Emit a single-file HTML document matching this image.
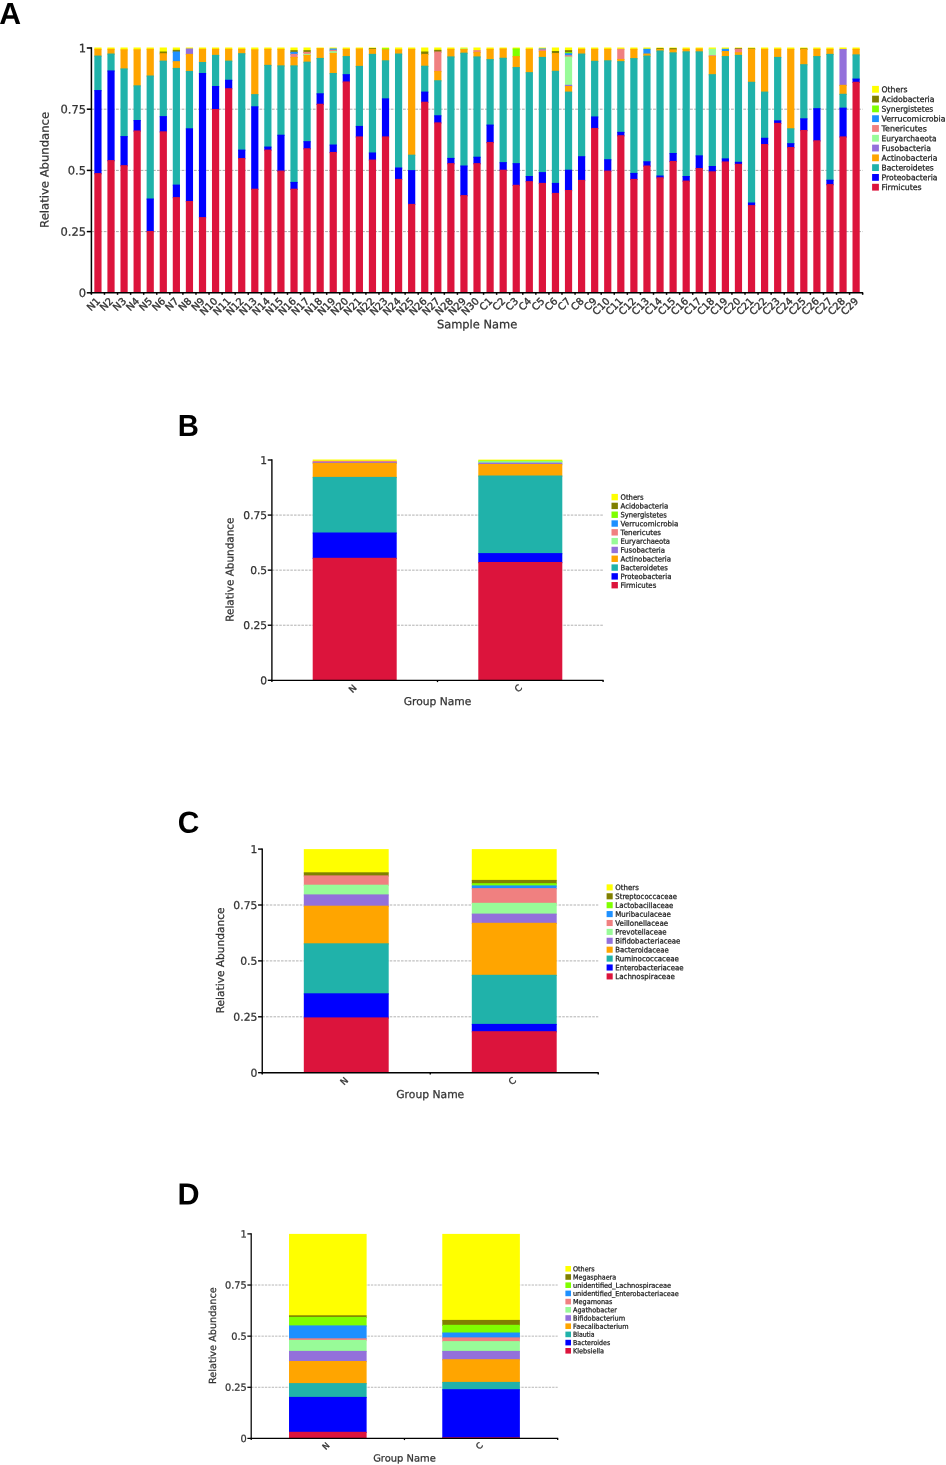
<!DOCTYPE html>
<html lang="en">
<head>
<meta charset="utf-8">
<title>Relative abundance of gut microbiota</title>
<style>
html,body{margin:0;padding:0;background:#fff;}
body{width:946px;height:1465px;overflow:hidden;}
svg{display:block;}
svg text{font-family:"DejaVu Sans", "Liberation Sans", sans-serif;fill:#333;stroke:#333;stroke-width:0.25px;}
svg text.xl{stroke:#333;stroke-width:0.35px;}
svg text.lg{fill:#1c1c1c;stroke:#1c1c1c;}
svg text.pl{font-family:"Liberation Sans",Arial,sans-serif;font-weight:bold;fill:#000;stroke:none;}
</style>
</head>
<body>
<svg width="946" height="1465" viewBox="0 0 946 1465">
<rect width="946" height="1465" fill="#fff"/>
<g>
<line x1="91.4" y1="231.6" x2="862.65" y2="231.6" stroke="#9a9a9a" stroke-width="0.85" stroke-dasharray="2.8 1.3"/>
<line x1="91.4" y1="170.4" x2="862.65" y2="170.4" stroke="#9a9a9a" stroke-width="0.85" stroke-dasharray="2.8 1.3"/>
<line x1="91.4" y1="109.2" x2="862.65" y2="109.2" stroke="#9a9a9a" stroke-width="0.85" stroke-dasharray="2.8 1.3"/>
<rect x="94.34" y="47.5" width="7.2" height="2.49" fill="#ffff00"/>
<rect x="94.34" y="48.79" width="7.2" height="7.97" fill="#ffa500"/>
<rect x="94.34" y="55.56" width="7.2" height="35.7" fill="#20b2aa"/>
<rect x="94.34" y="90.06" width="7.2" height="84.24" fill="#0000ff"/>
<rect x="94.34" y="173.1" width="7.2" height="119.7" fill="#dc143c"/>
<rect x="107.41" y="47.5" width="7.2" height="2.49" fill="#ffff00"/>
<rect x="107.41" y="48.79" width="7.2" height="5.94" fill="#ffa500"/>
<rect x="107.41" y="53.53" width="7.2" height="18.11" fill="#20b2aa"/>
<rect x="107.41" y="70.44" width="7.2" height="90.84" fill="#0000ff"/>
<rect x="107.41" y="160.08" width="7.2" height="132.72" fill="#dc143c"/>
<rect x="120.48" y="47.5" width="7.2" height="3" fill="#ffff00"/>
<rect x="120.48" y="49.3" width="7.2" height="20.31" fill="#ffa500"/>
<rect x="120.48" y="68.41" width="7.2" height="68.85" fill="#20b2aa"/>
<rect x="120.48" y="136.07" width="7.2" height="30.29" fill="#0000ff"/>
<rect x="120.48" y="165.16" width="7.2" height="127.64" fill="#dc143c"/>
<rect x="133.55" y="47.5" width="7.2" height="3" fill="#ffff00"/>
<rect x="133.55" y="49.3" width="7.2" height="37.23" fill="#ffa500"/>
<rect x="133.55" y="85.33" width="7.2" height="35.87" fill="#20b2aa"/>
<rect x="133.55" y="120" width="7.2" height="11.69" fill="#0000ff"/>
<rect x="133.55" y="130.49" width="7.2" height="162.31" fill="#dc143c"/>
<rect x="146.62" y="47.5" width="7.2" height="2.49" fill="#ffff00"/>
<rect x="146.62" y="48.79" width="7.2" height="27.92" fill="#ffa500"/>
<rect x="146.62" y="75.52" width="7.2" height="124.18" fill="#20b2aa"/>
<rect x="146.62" y="198.5" width="7.2" height="33.7" fill="#0000ff"/>
<rect x="146.62" y="231" width="7.2" height="61.8" fill="#dc143c"/>
<rect x="159.7" y="47.5" width="7.2" height="5.2" fill="#ffff00"/>
<rect x="159.7" y="51.5" width="7.2" height="2.89" fill="#808000"/>
<rect x="159.7" y="53.19" width="7.2" height="8.64" fill="#ffa500"/>
<rect x="159.7" y="60.63" width="7.2" height="56.68" fill="#20b2aa"/>
<rect x="159.7" y="116.11" width="7.2" height="16.42" fill="#0000ff"/>
<rect x="159.7" y="131.33" width="7.2" height="161.47" fill="#dc143c"/>
<rect x="172.77" y="47.5" width="7.2" height="3.51" fill="#ffff00"/>
<rect x="172.77" y="49.81" width="7.2" height="2.89" fill="#808000"/>
<rect x="172.77" y="51.5" width="7.2" height="10.84" fill="#1e90ff"/>
<rect x="172.77" y="61.14" width="7.2" height="7.97" fill="#ffa500"/>
<rect x="172.77" y="67.91" width="7.2" height="117.89" fill="#20b2aa"/>
<rect x="172.77" y="184.6" width="7.2" height="13.7" fill="#0000ff"/>
<rect x="172.77" y="197.1" width="7.2" height="95.7" fill="#dc143c"/>
<rect x="185.84" y="47.5" width="7.2" height="2.16" fill="#ffff00"/>
<rect x="185.84" y="48.46" width="7.2" height="6.61" fill="#9370db"/>
<rect x="185.84" y="53.87" width="7.2" height="18.28" fill="#ffa500"/>
<rect x="185.84" y="70.95" width="7.2" height="58.54" fill="#20b2aa"/>
<rect x="185.84" y="128.29" width="7.2" height="73.91" fill="#0000ff"/>
<rect x="185.84" y="201" width="7.2" height="91.8" fill="#dc143c"/>
<rect x="198.91" y="47.5" width="7.2" height="2.49" fill="#ffff00"/>
<rect x="198.91" y="48.79" width="7.2" height="14.39" fill="#ffa500"/>
<rect x="198.91" y="61.99" width="7.2" height="12.19" fill="#20b2aa"/>
<rect x="198.91" y="72.98" width="7.2" height="145.32" fill="#0000ff"/>
<rect x="198.91" y="217.1" width="7.2" height="75.7" fill="#dc143c"/>
<rect x="211.98" y="47.5" width="7.2" height="2.49" fill="#ffff00"/>
<rect x="211.98" y="48.79" width="7.2" height="7.29" fill="#ffa500"/>
<rect x="211.98" y="54.88" width="7.2" height="32.32" fill="#20b2aa"/>
<rect x="211.98" y="86" width="7.2" height="24.2" fill="#0000ff"/>
<rect x="211.98" y="109.01" width="7.2" height="183.79" fill="#dc143c"/>
<rect x="225.06" y="47.5" width="7.2" height="2.49" fill="#ffff00"/>
<rect x="225.06" y="48.79" width="7.2" height="13.04" fill="#ffa500"/>
<rect x="225.06" y="60.63" width="7.2" height="20.31" fill="#20b2aa"/>
<rect x="225.06" y="79.75" width="7.2" height="9.66" fill="#0000ff"/>
<rect x="225.06" y="88.2" width="7.2" height="204.6" fill="#dc143c"/>
<rect x="238.13" y="47.5" width="7.2" height="2.49" fill="#ffff00"/>
<rect x="238.13" y="48.79" width="7.2" height="5.6" fill="#ffa500"/>
<rect x="238.13" y="53.19" width="7.2" height="97.61" fill="#20b2aa"/>
<rect x="238.13" y="149.6" width="7.2" height="9.66" fill="#0000ff"/>
<rect x="238.13" y="158.05" width="7.2" height="134.75" fill="#dc143c"/>
<rect x="251.2" y="47.5" width="7.2" height="3" fill="#ffff00"/>
<rect x="251.2" y="49.3" width="7.2" height="46.02" fill="#ffa500"/>
<rect x="251.2" y="94.12" width="7.2" height="13.38" fill="#20b2aa"/>
<rect x="251.2" y="106.3" width="7.2" height="83.6" fill="#0000ff"/>
<rect x="251.2" y="188.7" width="7.2" height="104.1" fill="#dc143c"/>
<rect x="264.27" y="47.5" width="7.2" height="2.49" fill="#ffff00"/>
<rect x="264.27" y="48.79" width="7.2" height="17.27" fill="#ffa500"/>
<rect x="264.27" y="64.86" width="7.2" height="82.89" fill="#20b2aa"/>
<rect x="264.27" y="146.55" width="7.2" height="4.24" fill="#0000ff"/>
<rect x="264.27" y="149.6" width="7.2" height="143.2" fill="#dc143c"/>
<rect x="277.34" y="47.5" width="7.2" height="2.49" fill="#ffff00"/>
<rect x="277.34" y="48.79" width="7.2" height="17.78" fill="#ffa500"/>
<rect x="277.34" y="65.37" width="7.2" height="70.54" fill="#20b2aa"/>
<rect x="277.34" y="134.71" width="7.2" height="37.09" fill="#0000ff"/>
<rect x="277.34" y="170.6" width="7.2" height="122.2" fill="#dc143c"/>
<rect x="290.42" y="47.5" width="7.2" height="3.85" fill="#ffff00"/>
<rect x="290.42" y="50.15" width="7.2" height="2.89" fill="#808000"/>
<rect x="290.42" y="51.84" width="7.2" height="3.23" fill="#1e90ff"/>
<rect x="290.42" y="53.87" width="7.2" height="4.24" fill="#f08080"/>
<rect x="290.42" y="56.91" width="7.2" height="9.66" fill="#ffa500"/>
<rect x="290.42" y="65.37" width="7.2" height="117.73" fill="#20b2aa"/>
<rect x="290.42" y="181.9" width="7.2" height="8" fill="#0000ff"/>
<rect x="290.42" y="188.7" width="7.2" height="104.1" fill="#dc143c"/>
<rect x="303.49" y="47.5" width="7.2" height="3.85" fill="#ffff00"/>
<rect x="303.49" y="50.15" width="7.2" height="2.89" fill="#808000"/>
<rect x="303.49" y="51.84" width="7.2" height="3.23" fill="#f08080"/>
<rect x="303.49" y="53.87" width="7.2" height="2.21" fill="#98fb98"/>
<rect x="303.49" y="54.88" width="7.2" height="7.97" fill="#ffa500"/>
<rect x="303.49" y="61.65" width="7.2" height="80.69" fill="#20b2aa"/>
<rect x="303.49" y="141.14" width="7.2" height="8.3" fill="#0000ff"/>
<rect x="303.49" y="148.25" width="7.2" height="144.55" fill="#dc143c"/>
<rect x="316.56" y="47.5" width="7.2" height="1.82" fill="#ffff00"/>
<rect x="316.56" y="48.12" width="7.2" height="11.01" fill="#ffa500"/>
<rect x="316.56" y="57.93" width="7.2" height="36.55" fill="#20b2aa"/>
<rect x="316.56" y="93.28" width="7.2" height="11.69" fill="#0000ff"/>
<rect x="316.56" y="103.76" width="7.2" height="189.04" fill="#dc143c"/>
<rect x="329.63" y="47.5" width="7.2" height="2.16" fill="#ffff00"/>
<rect x="329.63" y="48.46" width="7.2" height="2.55" fill="#1e90ff"/>
<rect x="329.63" y="49.81" width="7.2" height="2.55" fill="#f08080"/>
<rect x="329.63" y="51.16" width="7.2" height="2.89" fill="#98fb98"/>
<rect x="329.63" y="52.85" width="7.2" height="21.33" fill="#ffa500"/>
<rect x="329.63" y="72.98" width="7.2" height="72.74" fill="#20b2aa"/>
<rect x="329.63" y="144.52" width="7.2" height="8.64" fill="#0000ff"/>
<rect x="329.63" y="151.97" width="7.2" height="140.83" fill="#dc143c"/>
<rect x="342.7" y="47.5" width="7.2" height="2.49" fill="#ffff00"/>
<rect x="342.7" y="48.79" width="7.2" height="8.47" fill="#ffa500"/>
<rect x="342.7" y="56.07" width="7.2" height="19.3" fill="#20b2aa"/>
<rect x="342.7" y="74.16" width="7.2" height="8.47" fill="#0000ff"/>
<rect x="342.7" y="81.44" width="7.2" height="211.36" fill="#dc143c"/>
<rect x="355.78" y="47.5" width="7.2" height="2.16" fill="#ffff00"/>
<rect x="355.78" y="48.46" width="7.2" height="18.62" fill="#ffa500"/>
<rect x="355.78" y="65.88" width="7.2" height="61.24" fill="#20b2aa"/>
<rect x="355.78" y="125.92" width="7.2" height="11.69" fill="#0000ff"/>
<rect x="355.78" y="136.41" width="7.2" height="156.39" fill="#dc143c"/>
<rect x="368.85" y="47.5" width="7.2" height="1.82" fill="#ffff00"/>
<rect x="368.85" y="48.12" width="7.2" height="2.05" fill="#808000"/>
<rect x="368.85" y="48.96" width="7.2" height="6.1" fill="#ffa500"/>
<rect x="368.85" y="53.87" width="7.2" height="99.8" fill="#20b2aa"/>
<rect x="368.85" y="152.47" width="7.2" height="8.3" fill="#0000ff"/>
<rect x="368.85" y="159.58" width="7.2" height="133.22" fill="#dc143c"/>
<rect x="381.92" y="47.5" width="7.2" height="1.99" fill="#ffff00"/>
<rect x="381.92" y="48.29" width="7.2" height="2.21" fill="#7fff00"/>
<rect x="381.92" y="49.3" width="7.2" height="12.19" fill="#ffa500"/>
<rect x="381.92" y="60.3" width="7.2" height="39.25" fill="#20b2aa"/>
<rect x="381.92" y="98.35" width="7.2" height="39.25" fill="#0000ff"/>
<rect x="381.92" y="136.41" width="7.2" height="156.39" fill="#dc143c"/>
<rect x="394.99" y="47.5" width="7.2" height="3" fill="#ffff00"/>
<rect x="394.99" y="49.3" width="7.2" height="5.43" fill="#ffa500"/>
<rect x="394.99" y="53.53" width="7.2" height="115.17" fill="#20b2aa"/>
<rect x="394.99" y="167.5" width="7.2" height="12.6" fill="#0000ff"/>
<rect x="394.99" y="178.9" width="7.2" height="113.9" fill="#dc143c"/>
<rect x="408.06" y="47.5" width="7.2" height="2.49" fill="#ffff00"/>
<rect x="408.06" y="48.79" width="7.2" height="107.08" fill="#ffa500"/>
<rect x="408.06" y="154.67" width="7.2" height="16.63" fill="#20b2aa"/>
<rect x="408.06" y="170.1" width="7.2" height="35" fill="#0000ff"/>
<rect x="408.06" y="203.9" width="7.2" height="88.9" fill="#dc143c"/>
<rect x="421.14" y="47.5" width="7.2" height="5.2" fill="#ffff00"/>
<rect x="421.14" y="51.5" width="7.2" height="3.57" fill="#808000"/>
<rect x="421.14" y="53.87" width="7.2" height="13.04" fill="#ffa500"/>
<rect x="421.14" y="65.71" width="7.2" height="27.08" fill="#20b2aa"/>
<rect x="421.14" y="91.59" width="7.2" height="11.35" fill="#0000ff"/>
<rect x="421.14" y="101.73" width="7.2" height="191.07" fill="#dc143c"/>
<rect x="434.21" y="47.5" width="7.2" height="3.51" fill="#ffff00"/>
<rect x="434.21" y="49.81" width="7.2" height="2.89" fill="#808000"/>
<rect x="434.21" y="51.5" width="7.2" height="20.65" fill="#f08080"/>
<rect x="434.21" y="70.95" width="7.2" height="10.5" fill="#ffa500"/>
<rect x="434.21" y="80.25" width="7.2" height="36.21" fill="#20b2aa"/>
<rect x="434.21" y="115.26" width="7.2" height="8.3" fill="#0000ff"/>
<rect x="434.21" y="122.37" width="7.2" height="170.43" fill="#dc143c"/>
<rect x="447.28" y="47.5" width="7.2" height="2.49" fill="#ffff00"/>
<rect x="447.28" y="48.79" width="7.2" height="8.81" fill="#ffa500"/>
<rect x="447.28" y="56.41" width="7.2" height="102.68" fill="#20b2aa"/>
<rect x="447.28" y="157.89" width="7.2" height="6.44" fill="#0000ff"/>
<rect x="447.28" y="163.13" width="7.2" height="129.67" fill="#dc143c"/>
<rect x="460.35" y="47.5" width="7.2" height="2.16" fill="#ffff00"/>
<rect x="460.35" y="48.46" width="7.2" height="1.71" fill="#98fb98"/>
<rect x="460.35" y="48.96" width="7.2" height="4.92" fill="#ffa500"/>
<rect x="460.35" y="52.68" width="7.2" height="114.02" fill="#20b2aa"/>
<rect x="460.35" y="165.5" width="7.2" height="30.8" fill="#0000ff"/>
<rect x="460.35" y="195.1" width="7.2" height="97.7" fill="#dc143c"/>
<rect x="473.42" y="47.5" width="7.2" height="3.85" fill="#ffff00"/>
<rect x="473.42" y="50.15" width="7.2" height="2.89" fill="#f08080"/>
<rect x="473.42" y="51.84" width="7.2" height="5.77" fill="#ffa500"/>
<rect x="473.42" y="56.41" width="7.2" height="101.5" fill="#20b2aa"/>
<rect x="473.42" y="156.7" width="7.2" height="7.63" fill="#0000ff"/>
<rect x="473.42" y="163.13" width="7.2" height="129.67" fill="#dc143c"/>
<rect x="486.5" y="47.5" width="7.2" height="2.49" fill="#ffff00"/>
<rect x="486.5" y="48.79" width="7.2" height="11.52" fill="#ffa500"/>
<rect x="486.5" y="59.11" width="7.2" height="66.65" fill="#20b2aa"/>
<rect x="486.5" y="124.57" width="7.2" height="18.62" fill="#0000ff"/>
<rect x="486.5" y="141.99" width="7.2" height="150.81" fill="#dc143c"/>
<rect x="499.57" y="47.5" width="7.2" height="2.16" fill="#ffff00"/>
<rect x="499.57" y="48.46" width="7.2" height="10.5" fill="#ffa500"/>
<rect x="499.57" y="57.76" width="7.2" height="105.56" fill="#20b2aa"/>
<rect x="499.57" y="162.11" width="7.2" height="8.79" fill="#0000ff"/>
<rect x="499.57" y="169.7" width="7.2" height="123.1" fill="#dc143c"/>
<rect x="512.64" y="47.5" width="7.2" height="2.16" fill="#ffff00"/>
<rect x="512.64" y="48.46" width="7.2" height="8.81" fill="#7fff00"/>
<rect x="512.64" y="56.07" width="7.2" height="12.19" fill="#ffa500"/>
<rect x="512.64" y="67.06" width="7.2" height="97.27" fill="#20b2aa"/>
<rect x="512.64" y="163.13" width="7.2" height="22.87" fill="#0000ff"/>
<rect x="512.64" y="184.8" width="7.2" height="108" fill="#dc143c"/>
<rect x="525.71" y="47.5" width="7.2" height="2.49" fill="#ffff00"/>
<rect x="525.71" y="48.79" width="7.2" height="24.54" fill="#ffa500"/>
<rect x="525.71" y="72.14" width="7.2" height="105.06" fill="#20b2aa"/>
<rect x="525.71" y="176" width="7.2" height="6.3" fill="#0000ff"/>
<rect x="525.71" y="181.1" width="7.2" height="111.7" fill="#dc143c"/>
<rect x="538.78" y="47.5" width="7.2" height="2.16" fill="#ffff00"/>
<rect x="538.78" y="48.46" width="7.2" height="2.05" fill="#1e90ff"/>
<rect x="538.78" y="49.3" width="7.2" height="2.89" fill="#f08080"/>
<rect x="538.78" y="50.99" width="7.2" height="7.12" fill="#ffa500"/>
<rect x="538.78" y="56.91" width="7.2" height="116.39" fill="#20b2aa"/>
<rect x="538.78" y="172.1" width="7.2" height="12" fill="#0000ff"/>
<rect x="538.78" y="182.9" width="7.2" height="109.9" fill="#dc143c"/>
<rect x="551.86" y="47.5" width="7.2" height="4.69" fill="#ffff00"/>
<rect x="551.86" y="50.99" width="7.2" height="3.23" fill="#808000"/>
<rect x="551.86" y="53.02" width="7.2" height="18.96" fill="#ffa500"/>
<rect x="551.86" y="70.78" width="7.2" height="113.32" fill="#20b2aa"/>
<rect x="551.86" y="182.9" width="7.2" height="11.2" fill="#0000ff"/>
<rect x="551.86" y="192.9" width="7.2" height="99.9" fill="#dc143c"/>
<rect x="564.93" y="47.5" width="7.2" height="3.85" fill="#ffff00"/>
<rect x="564.93" y="50.15" width="7.2" height="3.23" fill="#808000"/>
<rect x="564.93" y="52.18" width="7.2" height="2.21" fill="#7fff00"/>
<rect x="564.93" y="53.19" width="7.2" height="3.23" fill="#1e90ff"/>
<rect x="564.93" y="55.22" width="7.2" height="2.55" fill="#f08080"/>
<rect x="564.93" y="56.58" width="7.2" height="29.45" fill="#98fb98"/>
<rect x="564.93" y="84.82" width="7.2" height="2.38" fill="#9370db"/>
<rect x="564.93" y="86" width="7.2" height="6.78" fill="#ffa500"/>
<rect x="564.93" y="91.59" width="7.2" height="79.31" fill="#20b2aa"/>
<rect x="564.93" y="169.7" width="7.2" height="21.5" fill="#0000ff"/>
<rect x="564.93" y="190" width="7.2" height="102.8" fill="#dc143c"/>
<rect x="578" y="47.5" width="7.2" height="2.49" fill="#ffff00"/>
<rect x="578" y="48.79" width="7.2" height="5.94" fill="#ffa500"/>
<rect x="578" y="53.53" width="7.2" height="103.86" fill="#20b2aa"/>
<rect x="578" y="156.19" width="7.2" height="24.91" fill="#0000ff"/>
<rect x="578" y="179.9" width="7.2" height="112.9" fill="#dc143c"/>
<rect x="591.07" y="47.5" width="7.2" height="2.49" fill="#ffff00"/>
<rect x="591.07" y="48.79" width="7.2" height="13.21" fill="#ffa500"/>
<rect x="591.07" y="60.8" width="7.2" height="56.84" fill="#20b2aa"/>
<rect x="591.07" y="116.45" width="7.2" height="12.7" fill="#0000ff"/>
<rect x="591.07" y="127.95" width="7.2" height="164.85" fill="#dc143c"/>
<rect x="604.14" y="47.5" width="7.2" height="2.49" fill="#ffff00"/>
<rect x="604.14" y="48.79" width="7.2" height="12.7" fill="#ffa500"/>
<rect x="604.14" y="60.3" width="7.2" height="100.14" fill="#20b2aa"/>
<rect x="604.14" y="159.24" width="7.2" height="12.56" fill="#0000ff"/>
<rect x="604.14" y="170.6" width="7.2" height="122.2" fill="#dc143c"/>
<rect x="617.22" y="47.5" width="7.2" height="2.49" fill="#ffff00"/>
<rect x="617.22" y="48.79" width="7.2" height="11.35" fill="#f08080"/>
<rect x="617.22" y="58.94" width="7.2" height="3.4" fill="#ffa500"/>
<rect x="617.22" y="61.14" width="7.2" height="71.9" fill="#20b2aa"/>
<rect x="617.22" y="131.84" width="7.2" height="4.58" fill="#0000ff"/>
<rect x="617.22" y="135.22" width="7.2" height="157.58" fill="#dc143c"/>
<rect x="630.29" y="47.5" width="7.2" height="2.49" fill="#ffff00"/>
<rect x="630.29" y="48.79" width="7.2" height="10.5" fill="#ffa500"/>
<rect x="630.29" y="58.1" width="7.2" height="116" fill="#20b2aa"/>
<rect x="630.29" y="172.9" width="7.2" height="7.2" fill="#0000ff"/>
<rect x="630.29" y="178.9" width="7.2" height="113.9" fill="#dc143c"/>
<rect x="643.36" y="47.5" width="7.2" height="2.49" fill="#ffff00"/>
<rect x="643.36" y="48.79" width="7.2" height="5.94" fill="#1e90ff"/>
<rect x="643.36" y="53.53" width="7.2" height="3.23" fill="#ffa500"/>
<rect x="643.36" y="55.56" width="7.2" height="106.91" fill="#20b2aa"/>
<rect x="643.36" y="161.27" width="7.2" height="5.43" fill="#0000ff"/>
<rect x="643.36" y="165.5" width="7.2" height="127.3" fill="#dc143c"/>
<rect x="656.43" y="47.5" width="7.2" height="1.82" fill="#ffff00"/>
<rect x="656.43" y="48.12" width="7.2" height="2.05" fill="#808000"/>
<rect x="656.43" y="48.96" width="7.2" height="2.72" fill="#ffa500"/>
<rect x="656.43" y="50.49" width="7.2" height="126.21" fill="#20b2aa"/>
<rect x="656.43" y="175.5" width="7.2" height="3" fill="#0000ff"/>
<rect x="656.43" y="177.3" width="7.2" height="115.5" fill="#dc143c"/>
<rect x="669.5" y="47.5" width="7.2" height="1.82" fill="#ffff00"/>
<rect x="669.5" y="48.12" width="7.2" height="2.38" fill="#808000"/>
<rect x="669.5" y="49.3" width="7.2" height="4.24" fill="#ffa500"/>
<rect x="669.5" y="52.35" width="7.2" height="101.83" fill="#20b2aa"/>
<rect x="669.5" y="152.98" width="7.2" height="9.15" fill="#0000ff"/>
<rect x="669.5" y="160.93" width="7.2" height="131.87" fill="#dc143c"/>
<rect x="682.58" y="47.5" width="7.2" height="2.49" fill="#ffff00"/>
<rect x="682.58" y="48.79" width="7.2" height="3.74" fill="#ffa500"/>
<rect x="682.58" y="51.33" width="7.2" height="125.87" fill="#20b2aa"/>
<rect x="682.58" y="176" width="7.2" height="5.8" fill="#0000ff"/>
<rect x="682.58" y="180.6" width="7.2" height="112.2" fill="#dc143c"/>
<rect x="695.65" y="47.5" width="7.2" height="2.16" fill="#ffff00"/>
<rect x="695.65" y="48.46" width="7.2" height="4.08" fill="#ffa500"/>
<rect x="695.65" y="51.33" width="7.2" height="105.22" fill="#20b2aa"/>
<rect x="695.65" y="155.35" width="7.2" height="13.88" fill="#0000ff"/>
<rect x="695.65" y="168.03" width="7.2" height="124.77" fill="#dc143c"/>
<rect x="708.72" y="47.5" width="7.2" height="2.49" fill="#ffff00"/>
<rect x="708.72" y="48.79" width="7.2" height="7.63" fill="#98fb98"/>
<rect x="708.72" y="55.22" width="7.2" height="2.05" fill="#f08080"/>
<rect x="708.72" y="56.07" width="7.2" height="19.3" fill="#ffa500"/>
<rect x="708.72" y="74.16" width="7.2" height="93.04" fill="#20b2aa"/>
<rect x="708.72" y="166" width="7.2" height="6.5" fill="#0000ff"/>
<rect x="708.72" y="171.3" width="7.2" height="121.5" fill="#dc143c"/>
<rect x="721.79" y="47.5" width="7.2" height="2.49" fill="#ffff00"/>
<rect x="721.79" y="48.79" width="7.2" height="3.4" fill="#1e90ff"/>
<rect x="721.79" y="50.99" width="7.2" height="6.27" fill="#ffa500"/>
<rect x="721.79" y="56.07" width="7.2" height="103.53" fill="#20b2aa"/>
<rect x="721.79" y="158.39" width="7.2" height="4.24" fill="#0000ff"/>
<rect x="721.79" y="161.44" width="7.2" height="131.36" fill="#dc143c"/>
<rect x="734.86" y="47.5" width="7.2" height="1.82" fill="#ffff00"/>
<rect x="734.86" y="48.12" width="7.2" height="1.88" fill="#808000"/>
<rect x="734.86" y="48.79" width="7.2" height="4.58" fill="#f08080"/>
<rect x="734.86" y="52.18" width="7.2" height="3.91" fill="#ffa500"/>
<rect x="734.86" y="54.88" width="7.2" height="108.09" fill="#20b2aa"/>
<rect x="734.86" y="161.78" width="7.2" height="3.23" fill="#0000ff"/>
<rect x="734.86" y="163.81" width="7.2" height="128.99" fill="#dc143c"/>
<rect x="747.94" y="47.5" width="7.2" height="1.99" fill="#ffff00"/>
<rect x="747.94" y="48.29" width="7.2" height="1.71" fill="#808000"/>
<rect x="747.94" y="48.79" width="7.2" height="34.18" fill="#ffa500"/>
<rect x="747.94" y="81.78" width="7.2" height="121.92" fill="#20b2aa"/>
<rect x="747.94" y="202.5" width="7.2" height="3.8" fill="#0000ff"/>
<rect x="747.94" y="205.1" width="7.2" height="87.7" fill="#dc143c"/>
<rect x="761.01" y="47.5" width="7.2" height="2.49" fill="#ffff00"/>
<rect x="761.01" y="48.79" width="7.2" height="43.99" fill="#ffa500"/>
<rect x="761.01" y="91.59" width="7.2" height="47.37" fill="#20b2aa"/>
<rect x="761.01" y="137.76" width="7.2" height="7.46" fill="#0000ff"/>
<rect x="761.01" y="144.02" width="7.2" height="148.78" fill="#dc143c"/>
<rect x="774.08" y="47.5" width="7.2" height="2.49" fill="#ffff00"/>
<rect x="774.08" y="48.79" width="7.2" height="9.32" fill="#ffa500"/>
<rect x="774.08" y="56.91" width="7.2" height="64.62" fill="#20b2aa"/>
<rect x="774.08" y="120.34" width="7.2" height="3.74" fill="#0000ff"/>
<rect x="774.08" y="122.88" width="7.2" height="169.92" fill="#dc143c"/>
<rect x="787.15" y="47.5" width="7.2" height="2.49" fill="#ffff00"/>
<rect x="787.15" y="48.79" width="7.2" height="80.69" fill="#ffa500"/>
<rect x="787.15" y="128.29" width="7.2" height="16.08" fill="#20b2aa"/>
<rect x="787.15" y="143.17" width="7.2" height="5.09" fill="#0000ff"/>
<rect x="787.15" y="147.06" width="7.2" height="145.74" fill="#dc143c"/>
<rect x="800.22" y="47.5" width="7.2" height="1.99" fill="#ffff00"/>
<rect x="800.22" y="48.29" width="7.2" height="1.71" fill="#808000"/>
<rect x="800.22" y="48.79" width="7.2" height="16.59" fill="#ffa500"/>
<rect x="800.22" y="64.19" width="7.2" height="55.32" fill="#20b2aa"/>
<rect x="800.22" y="118.31" width="7.2" height="12.87" fill="#0000ff"/>
<rect x="800.22" y="129.98" width="7.2" height="162.82" fill="#dc143c"/>
<rect x="813.3" y="47.5" width="7.2" height="2.49" fill="#ffff00"/>
<rect x="813.3" y="48.79" width="7.2" height="8.47" fill="#ffa500"/>
<rect x="813.3" y="56.07" width="7.2" height="53.29" fill="#20b2aa"/>
<rect x="813.3" y="108.16" width="7.2" height="33.34" fill="#0000ff"/>
<rect x="813.3" y="140.3" width="7.2" height="152.5" fill="#dc143c"/>
<rect x="826.37" y="47.5" width="7.2" height="2.49" fill="#ffff00"/>
<rect x="826.37" y="48.79" width="7.2" height="6.27" fill="#ffa500"/>
<rect x="826.37" y="53.87" width="7.2" height="127.03" fill="#20b2aa"/>
<rect x="826.37" y="179.7" width="7.2" height="5.6" fill="#0000ff"/>
<rect x="826.37" y="184.1" width="7.2" height="108.7" fill="#dc143c"/>
<rect x="839.44" y="47.5" width="7.2" height="2.66" fill="#ffff00"/>
<rect x="839.44" y="48.96" width="7.2" height="37.06" fill="#9370db"/>
<rect x="839.44" y="84.82" width="7.2" height="10.16" fill="#ffa500"/>
<rect x="839.44" y="93.78" width="7.2" height="15.07" fill="#20b2aa"/>
<rect x="839.44" y="107.65" width="7.2" height="29.95" fill="#0000ff"/>
<rect x="839.44" y="136.41" width="7.2" height="156.39" fill="#dc143c"/>
<rect x="852.51" y="47.5" width="7.2" height="2.49" fill="#ffff00"/>
<rect x="852.51" y="48.79" width="7.2" height="6.78" fill="#ffa500"/>
<rect x="852.51" y="54.38" width="7.2" height="25.39" fill="#20b2aa"/>
<rect x="852.51" y="78.56" width="7.2" height="4.41" fill="#0000ff"/>
<rect x="852.51" y="81.78" width="7.2" height="211.02" fill="#dc143c"/>
<line x1="91.4" y1="47.25" x2="91.4" y2="293.55" stroke="#000" stroke-width="1.5"/>
<line x1="90.65" y1="292.8" x2="863.15" y2="292.8" stroke="#000" stroke-width="1.5"/>
<line x1="86.8" y1="292.8" x2="91.4" y2="292.8" stroke="#000" stroke-width="1.5"/>
<text font-size="11.5" text-anchor="end" transform="translate(86.1 297) rotate(0.06)">0</text>
<line x1="86.8" y1="231.6" x2="91.4" y2="231.6" stroke="#000" stroke-width="1.5"/>
<text font-size="11.5" text-anchor="end" transform="translate(86.1 235.8) rotate(0.06)">0.25</text>
<line x1="86.8" y1="170.4" x2="91.4" y2="170.4" stroke="#000" stroke-width="1.5"/>
<text font-size="11.5" text-anchor="end" transform="translate(86.1 174.6) rotate(0.06)">0.5</text>
<line x1="86.8" y1="109.2" x2="91.4" y2="109.2" stroke="#000" stroke-width="1.5"/>
<text font-size="11.5" text-anchor="end" transform="translate(86.1 113.4) rotate(0.06)">0.75</text>
<line x1="86.8" y1="48" x2="91.4" y2="48" stroke="#000" stroke-width="1.5"/>
<text font-size="11.5" text-anchor="end" transform="translate(86.1 52.2) rotate(0.06)">1</text>
<line x1="91.4" y1="292.8" x2="91.4" y2="294.8" stroke="#000" stroke-width="1.5"/>
<line x1="104.47" y1="292.8" x2="104.47" y2="294.8" stroke="#000" stroke-width="1.5"/>
<line x1="117.54" y1="292.8" x2="117.54" y2="294.8" stroke="#000" stroke-width="1.5"/>
<line x1="130.62" y1="292.8" x2="130.62" y2="294.8" stroke="#000" stroke-width="1.5"/>
<line x1="143.69" y1="292.8" x2="143.69" y2="294.8" stroke="#000" stroke-width="1.5"/>
<line x1="156.76" y1="292.8" x2="156.76" y2="294.8" stroke="#000" stroke-width="1.5"/>
<line x1="169.83" y1="292.8" x2="169.83" y2="294.8" stroke="#000" stroke-width="1.5"/>
<line x1="182.9" y1="292.8" x2="182.9" y2="294.8" stroke="#000" stroke-width="1.5"/>
<line x1="195.98" y1="292.8" x2="195.98" y2="294.8" stroke="#000" stroke-width="1.5"/>
<line x1="209.05" y1="292.8" x2="209.05" y2="294.8" stroke="#000" stroke-width="1.5"/>
<line x1="222.12" y1="292.8" x2="222.12" y2="294.8" stroke="#000" stroke-width="1.5"/>
<line x1="235.19" y1="292.8" x2="235.19" y2="294.8" stroke="#000" stroke-width="1.5"/>
<line x1="248.26" y1="292.8" x2="248.26" y2="294.8" stroke="#000" stroke-width="1.5"/>
<line x1="261.34" y1="292.8" x2="261.34" y2="294.8" stroke="#000" stroke-width="1.5"/>
<line x1="274.41" y1="292.8" x2="274.41" y2="294.8" stroke="#000" stroke-width="1.5"/>
<line x1="287.48" y1="292.8" x2="287.48" y2="294.8" stroke="#000" stroke-width="1.5"/>
<line x1="300.55" y1="292.8" x2="300.55" y2="294.8" stroke="#000" stroke-width="1.5"/>
<line x1="313.62" y1="292.8" x2="313.62" y2="294.8" stroke="#000" stroke-width="1.5"/>
<line x1="326.7" y1="292.8" x2="326.7" y2="294.8" stroke="#000" stroke-width="1.5"/>
<line x1="339.77" y1="292.8" x2="339.77" y2="294.8" stroke="#000" stroke-width="1.5"/>
<line x1="352.84" y1="292.8" x2="352.84" y2="294.8" stroke="#000" stroke-width="1.5"/>
<line x1="365.91" y1="292.8" x2="365.91" y2="294.8" stroke="#000" stroke-width="1.5"/>
<line x1="378.98" y1="292.8" x2="378.98" y2="294.8" stroke="#000" stroke-width="1.5"/>
<line x1="392.06" y1="292.8" x2="392.06" y2="294.8" stroke="#000" stroke-width="1.5"/>
<line x1="405.13" y1="292.8" x2="405.13" y2="294.8" stroke="#000" stroke-width="1.5"/>
<line x1="418.2" y1="292.8" x2="418.2" y2="294.8" stroke="#000" stroke-width="1.5"/>
<line x1="431.27" y1="292.8" x2="431.27" y2="294.8" stroke="#000" stroke-width="1.5"/>
<line x1="444.34" y1="292.8" x2="444.34" y2="294.8" stroke="#000" stroke-width="1.5"/>
<line x1="457.42" y1="292.8" x2="457.42" y2="294.8" stroke="#000" stroke-width="1.5"/>
<line x1="470.49" y1="292.8" x2="470.49" y2="294.8" stroke="#000" stroke-width="1.5"/>
<line x1="483.56" y1="292.8" x2="483.56" y2="294.8" stroke="#000" stroke-width="1.5"/>
<line x1="496.63" y1="292.8" x2="496.63" y2="294.8" stroke="#000" stroke-width="1.5"/>
<line x1="509.7" y1="292.8" x2="509.7" y2="294.8" stroke="#000" stroke-width="1.5"/>
<line x1="522.78" y1="292.8" x2="522.78" y2="294.8" stroke="#000" stroke-width="1.5"/>
<line x1="535.85" y1="292.8" x2="535.85" y2="294.8" stroke="#000" stroke-width="1.5"/>
<line x1="548.92" y1="292.8" x2="548.92" y2="294.8" stroke="#000" stroke-width="1.5"/>
<line x1="561.99" y1="292.8" x2="561.99" y2="294.8" stroke="#000" stroke-width="1.5"/>
<line x1="575.06" y1="292.8" x2="575.06" y2="294.8" stroke="#000" stroke-width="1.5"/>
<line x1="588.14" y1="292.8" x2="588.14" y2="294.8" stroke="#000" stroke-width="1.5"/>
<line x1="601.21" y1="292.8" x2="601.21" y2="294.8" stroke="#000" stroke-width="1.5"/>
<line x1="614.28" y1="292.8" x2="614.28" y2="294.8" stroke="#000" stroke-width="1.5"/>
<line x1="627.35" y1="292.8" x2="627.35" y2="294.8" stroke="#000" stroke-width="1.5"/>
<line x1="640.42" y1="292.8" x2="640.42" y2="294.8" stroke="#000" stroke-width="1.5"/>
<line x1="653.5" y1="292.8" x2="653.5" y2="294.8" stroke="#000" stroke-width="1.5"/>
<line x1="666.57" y1="292.8" x2="666.57" y2="294.8" stroke="#000" stroke-width="1.5"/>
<line x1="679.64" y1="292.8" x2="679.64" y2="294.8" stroke="#000" stroke-width="1.5"/>
<line x1="692.71" y1="292.8" x2="692.71" y2="294.8" stroke="#000" stroke-width="1.5"/>
<line x1="705.78" y1="292.8" x2="705.78" y2="294.8" stroke="#000" stroke-width="1.5"/>
<line x1="718.86" y1="292.8" x2="718.86" y2="294.8" stroke="#000" stroke-width="1.5"/>
<line x1="731.93" y1="292.8" x2="731.93" y2="294.8" stroke="#000" stroke-width="1.5"/>
<line x1="745" y1="292.8" x2="745" y2="294.8" stroke="#000" stroke-width="1.5"/>
<line x1="758.07" y1="292.8" x2="758.07" y2="294.8" stroke="#000" stroke-width="1.5"/>
<line x1="771.14" y1="292.8" x2="771.14" y2="294.8" stroke="#000" stroke-width="1.5"/>
<line x1="784.22" y1="292.8" x2="784.22" y2="294.8" stroke="#000" stroke-width="1.5"/>
<line x1="797.29" y1="292.8" x2="797.29" y2="294.8" stroke="#000" stroke-width="1.5"/>
<line x1="810.36" y1="292.8" x2="810.36" y2="294.8" stroke="#000" stroke-width="1.5"/>
<line x1="823.43" y1="292.8" x2="823.43" y2="294.8" stroke="#000" stroke-width="1.5"/>
<line x1="836.5" y1="292.8" x2="836.5" y2="294.8" stroke="#000" stroke-width="1.5"/>
<line x1="849.58" y1="292.8" x2="849.58" y2="294.8" stroke="#000" stroke-width="1.5"/>
<line x1="862.65" y1="292.8" x2="862.65" y2="294.8" stroke="#000" stroke-width="1.5"/>
<text font-size="10" text-anchor="end" transform="translate(100.74 301.8) rotate(-44.94)" class="xl">N1</text>
<text font-size="10" text-anchor="end" transform="translate(113.81 301.8) rotate(-44.94)" class="xl">N2</text>
<text font-size="10" text-anchor="end" transform="translate(126.88 301.8) rotate(-44.94)" class="xl">N3</text>
<text font-size="10" text-anchor="end" transform="translate(139.95 301.8) rotate(-44.94)" class="xl">N4</text>
<text font-size="10" text-anchor="end" transform="translate(153.02 301.8) rotate(-44.94)" class="xl">N5</text>
<text font-size="10" text-anchor="end" transform="translate(166.1 301.8) rotate(-44.94)" class="xl">N6</text>
<text font-size="10" text-anchor="end" transform="translate(179.17 301.8) rotate(-44.94)" class="xl">N7</text>
<text font-size="10" text-anchor="end" transform="translate(192.24 301.8) rotate(-44.94)" class="xl">N8</text>
<text font-size="10" text-anchor="end" transform="translate(205.31 301.8) rotate(-44.94)" class="xl">N9</text>
<text font-size="10" text-anchor="end" transform="translate(218.38 301.8) rotate(-44.94)" class="xl">N10</text>
<text font-size="10" text-anchor="end" transform="translate(231.46 301.8) rotate(-44.94)" class="xl">N11</text>
<text font-size="10" text-anchor="end" transform="translate(244.53 301.8) rotate(-44.94)" class="xl">N12</text>
<text font-size="10" text-anchor="end" transform="translate(257.6 301.8) rotate(-44.94)" class="xl">N13</text>
<text font-size="10" text-anchor="end" transform="translate(270.67 301.8) rotate(-44.94)" class="xl">N14</text>
<text font-size="10" text-anchor="end" transform="translate(283.74 301.8) rotate(-44.94)" class="xl">N15</text>
<text font-size="10" text-anchor="end" transform="translate(296.82 301.8) rotate(-44.94)" class="xl">N16</text>
<text font-size="10" text-anchor="end" transform="translate(309.89 301.8) rotate(-44.94)" class="xl">N17</text>
<text font-size="10" text-anchor="end" transform="translate(322.96 301.8) rotate(-44.94)" class="xl">N18</text>
<text font-size="10" text-anchor="end" transform="translate(336.03 301.8) rotate(-44.94)" class="xl">N19</text>
<text font-size="10" text-anchor="end" transform="translate(349.1 301.8) rotate(-44.94)" class="xl">N20</text>
<text font-size="10" text-anchor="end" transform="translate(362.18 301.8) rotate(-44.94)" class="xl">N21</text>
<text font-size="10" text-anchor="end" transform="translate(375.25 301.8) rotate(-44.94)" class="xl">N22</text>
<text font-size="10" text-anchor="end" transform="translate(388.32 301.8) rotate(-44.94)" class="xl">N23</text>
<text font-size="10" text-anchor="end" transform="translate(401.39 301.8) rotate(-44.94)" class="xl">N24</text>
<text font-size="10" text-anchor="end" transform="translate(414.46 301.8) rotate(-44.94)" class="xl">N25</text>
<text font-size="10" text-anchor="end" transform="translate(427.54 301.8) rotate(-44.94)" class="xl">N26</text>
<text font-size="10" text-anchor="end" transform="translate(440.61 301.8) rotate(-44.94)" class="xl">N27</text>
<text font-size="10" text-anchor="end" transform="translate(453.68 301.8) rotate(-44.94)" class="xl">N28</text>
<text font-size="10" text-anchor="end" transform="translate(466.75 301.8) rotate(-44.94)" class="xl">N29</text>
<text font-size="10" text-anchor="end" transform="translate(479.82 301.8) rotate(-44.94)" class="xl">N30</text>
<text font-size="10" text-anchor="end" transform="translate(492.9 301.8) rotate(-44.94)" class="xl">C1</text>
<text font-size="10" text-anchor="end" transform="translate(505.97 301.8) rotate(-44.94)" class="xl">C2</text>
<text font-size="10" text-anchor="end" transform="translate(519.04 301.8) rotate(-44.94)" class="xl">C3</text>
<text font-size="10" text-anchor="end" transform="translate(532.11 301.8) rotate(-44.94)" class="xl">C4</text>
<text font-size="10" text-anchor="end" transform="translate(545.18 301.8) rotate(-44.94)" class="xl">C5</text>
<text font-size="10" text-anchor="end" transform="translate(558.26 301.8) rotate(-44.94)" class="xl">C6</text>
<text font-size="10" text-anchor="end" transform="translate(571.33 301.8) rotate(-44.94)" class="xl">C7</text>
<text font-size="10" text-anchor="end" transform="translate(584.4 301.8) rotate(-44.94)" class="xl">C8</text>
<text font-size="10" text-anchor="end" transform="translate(597.47 301.8) rotate(-44.94)" class="xl">C9</text>
<text font-size="10" text-anchor="end" transform="translate(610.54 301.8) rotate(-44.94)" class="xl">C10</text>
<text font-size="10" text-anchor="end" transform="translate(623.62 301.8) rotate(-44.94)" class="xl">C11</text>
<text font-size="10" text-anchor="end" transform="translate(636.69 301.8) rotate(-44.94)" class="xl">C12</text>
<text font-size="10" text-anchor="end" transform="translate(649.76 301.8) rotate(-44.94)" class="xl">C13</text>
<text font-size="10" text-anchor="end" transform="translate(662.83 301.8) rotate(-44.94)" class="xl">C14</text>
<text font-size="10" text-anchor="end" transform="translate(675.9 301.8) rotate(-44.94)" class="xl">C15</text>
<text font-size="10" text-anchor="end" transform="translate(688.98 301.8) rotate(-44.94)" class="xl">C16</text>
<text font-size="10" text-anchor="end" transform="translate(702.05 301.8) rotate(-44.94)" class="xl">C17</text>
<text font-size="10" text-anchor="end" transform="translate(715.12 301.8) rotate(-44.94)" class="xl">C18</text>
<text font-size="10" text-anchor="end" transform="translate(728.19 301.8) rotate(-44.94)" class="xl">C19</text>
<text font-size="10" text-anchor="end" transform="translate(741.26 301.8) rotate(-44.94)" class="xl">C20</text>
<text font-size="10" text-anchor="end" transform="translate(754.34 301.8) rotate(-44.94)" class="xl">C21</text>
<text font-size="10" text-anchor="end" transform="translate(767.41 301.8) rotate(-44.94)" class="xl">C22</text>
<text font-size="10" text-anchor="end" transform="translate(780.48 301.8) rotate(-44.94)" class="xl">C23</text>
<text font-size="10" text-anchor="end" transform="translate(793.55 301.8) rotate(-44.94)" class="xl">C24</text>
<text font-size="10" text-anchor="end" transform="translate(806.62 301.8) rotate(-44.94)" class="xl">C25</text>
<text font-size="10" text-anchor="end" transform="translate(819.7 301.8) rotate(-44.94)" class="xl">C26</text>
<text font-size="10" text-anchor="end" transform="translate(832.77 301.8) rotate(-44.94)" class="xl">C27</text>
<text font-size="10" text-anchor="end" transform="translate(845.84 301.8) rotate(-44.94)" class="xl">C28</text>
<text font-size="10" text-anchor="end" transform="translate(858.91 301.8) rotate(-44.94)" class="xl">C29</text>
<text font-size="11.5" text-anchor="middle" transform="translate(477.02 328.3) rotate(0.06)" textLength="80.3" lengthAdjust="spacingAndGlyphs">Sample Name</text>
<text font-size="11.5" text-anchor="middle" transform="translate(48.6 169.9) rotate(-89.94)" textLength="116" lengthAdjust="spacingAndGlyphs">Relative Abundance</text>
<rect x="872.1" y="85.9" width="6.8" height="6.8" fill="#ffff00"/>
<text font-size="8" transform="translate(881.5 92.18) rotate(0.06)" class="lg" textLength="25.9" lengthAdjust="spacingAndGlyphs">Others</text>
<rect x="872.1" y="95.69" width="6.8" height="6.8" fill="#808000"/>
<text font-size="8" transform="translate(881.5 101.97) rotate(0.06)" class="lg" textLength="53" lengthAdjust="spacingAndGlyphs">Acidobacteria</text>
<rect x="872.1" y="105.48" width="6.8" height="6.8" fill="#7fff00"/>
<text font-size="8" transform="translate(881.5 111.76) rotate(0.06)" class="lg" textLength="51.8" lengthAdjust="spacingAndGlyphs">Synergistetes</text>
<rect x="872.1" y="115.27" width="6.8" height="6.8" fill="#1e90ff"/>
<text font-size="8" transform="translate(881.5 121.55) rotate(0.06)" class="lg" textLength="64.1" lengthAdjust="spacingAndGlyphs">Verrucomicrobia</text>
<rect x="872.1" y="125.06" width="6.8" height="6.8" fill="#f08080"/>
<text font-size="8" transform="translate(881.5 131.34) rotate(0.06)" class="lg" textLength="45.4" lengthAdjust="spacingAndGlyphs">Tenericutes</text>
<rect x="872.1" y="134.85" width="6.8" height="6.8" fill="#98fb98"/>
<text font-size="8" transform="translate(881.5 141.13) rotate(0.06)" class="lg" textLength="55" lengthAdjust="spacingAndGlyphs">Euryarchaeota</text>
<rect x="872.1" y="144.64" width="6.8" height="6.8" fill="#9370db"/>
<text font-size="8" transform="translate(881.5 150.92) rotate(0.06)" class="lg" textLength="49.4" lengthAdjust="spacingAndGlyphs">Fusobacteria</text>
<rect x="872.1" y="154.43" width="6.8" height="6.8" fill="#ffa500"/>
<text font-size="8" transform="translate(881.5 160.71) rotate(0.06)" class="lg" textLength="56" lengthAdjust="spacingAndGlyphs">Actinobacteria</text>
<rect x="872.1" y="164.22" width="6.8" height="6.8" fill="#20b2aa"/>
<text font-size="8" transform="translate(881.5 170.5) rotate(0.06)" class="lg" textLength="52.3" lengthAdjust="spacingAndGlyphs">Bacteroidetes</text>
<rect x="872.1" y="174.01" width="6.8" height="6.8" fill="#0000ff"/>
<text font-size="8" transform="translate(881.5 180.29) rotate(0.06)" class="lg" textLength="56" lengthAdjust="spacingAndGlyphs">Proteobacteria</text>
<rect x="872.1" y="183.8" width="6.8" height="6.8" fill="#dc143c"/>
<text font-size="8" transform="translate(881.5 190.08) rotate(0.06)" class="lg" textLength="40.2" lengthAdjust="spacingAndGlyphs">Firmicutes</text>
<text class="pl" font-size="30.5" transform="translate(-0.78 24.1) rotate(0.06) scale(0.99 1)">A</text>
</g>
<g>
<line x1="271.9" y1="625.22" x2="603.1" y2="625.22" stroke="#9a9a9a" stroke-width="0.77" stroke-dasharray="2.52 1.17"/>
<line x1="271.9" y1="570.15" x2="603.1" y2="570.15" stroke="#9a9a9a" stroke-width="0.77" stroke-dasharray="2.52 1.17"/>
<line x1="271.9" y1="515.08" x2="603.1" y2="515.08" stroke="#9a9a9a" stroke-width="0.77" stroke-dasharray="2.52 1.17"/>
<rect x="312.7" y="459.5" width="84" height="2.6" fill="#ffff00"/>
<rect x="312.7" y="460.9" width="84" height="2.2" fill="#f08080"/>
<rect x="312.7" y="461.9" width="84" height="2.1" fill="#9370db"/>
<rect x="312.7" y="462.8" width="84" height="15.3" fill="#ffa500"/>
<rect x="312.7" y="476.9" width="84" height="56.8" fill="#20b2aa"/>
<rect x="312.7" y="532.5" width="84" height="26.5" fill="#0000ff"/>
<rect x="312.7" y="557.8" width="84" height="122.5" fill="#dc143c"/>
<rect x="478.3" y="459.6" width="84" height="2.2" fill="#ffff00"/>
<rect x="478.3" y="460.6" width="84" height="1.8" fill="#7fff00"/>
<rect x="478.3" y="461.2" width="84" height="2.6" fill="#98fb98"/>
<rect x="478.3" y="462.6" width="84" height="2.6" fill="#9370db"/>
<rect x="478.3" y="464" width="84" height="12.7" fill="#ffa500"/>
<rect x="478.3" y="475.5" width="84" height="78.8" fill="#20b2aa"/>
<rect x="478.3" y="553.1" width="84" height="10.1" fill="#0000ff"/>
<rect x="478.3" y="562" width="84" height="118.3" fill="#dc143c"/>
<line x1="271.9" y1="459.32" x2="271.9" y2="680.97" stroke="#000" stroke-width="1.35"/>
<line x1="271.22" y1="680.3" x2="603.6" y2="680.3" stroke="#000" stroke-width="1.35"/>
<line x1="267.76" y1="680.3" x2="271.9" y2="680.3" stroke="#000" stroke-width="1.35"/>
<text font-size="10.7" text-anchor="end" transform="translate(267.13 684.21) rotate(0.06)">0</text>
<line x1="267.76" y1="625.22" x2="271.9" y2="625.22" stroke="#000" stroke-width="1.35"/>
<text font-size="10.7" text-anchor="end" transform="translate(267.13 629.13) rotate(0.06)">0.25</text>
<line x1="267.76" y1="570.15" x2="271.9" y2="570.15" stroke="#000" stroke-width="1.35"/>
<text font-size="10.7" text-anchor="end" transform="translate(267.13 574.06) rotate(0.06)">0.5</text>
<line x1="267.76" y1="515.08" x2="271.9" y2="515.08" stroke="#000" stroke-width="1.35"/>
<text font-size="10.7" text-anchor="end" transform="translate(267.13 518.98) rotate(0.06)">0.75</text>
<line x1="267.76" y1="460" x2="271.9" y2="460" stroke="#000" stroke-width="1.35"/>
<text font-size="10.7" text-anchor="end" transform="translate(267.13 463.91) rotate(0.06)">1</text>
<line x1="271.9" y1="680.3" x2="271.9" y2="682.1" stroke="#000" stroke-width="1.35"/>
<line x1="437.5" y1="680.3" x2="437.5" y2="682.1" stroke="#000" stroke-width="1.35"/>
<line x1="603.1" y1="680.3" x2="603.1" y2="682.1" stroke="#000" stroke-width="1.35"/>
<text font-size="9" text-anchor="end" transform="translate(357.2 688.4) rotate(-44.94)" class="xl">N</text>
<text font-size="9" text-anchor="end" transform="translate(522.8 688.4) rotate(-44.94)" class="xl">C</text>
<text font-size="10.7" text-anchor="middle" transform="translate(437.5 705) rotate(0.06)" textLength="67.7" lengthAdjust="spacingAndGlyphs">Group Name</text>
<text font-size="10.7" text-anchor="middle" transform="translate(233.5 569.65) rotate(-89.94)" textLength="104.3" lengthAdjust="spacingAndGlyphs">Relative Abundance</text>
<rect x="611.5" y="493.9" width="6.4" height="6.4" fill="#ffff00"/>
<text font-size="7.3" transform="translate(620.5 499.73) rotate(0.06)" class="lg" textLength="23" lengthAdjust="spacingAndGlyphs">Others</text>
<rect x="611.5" y="502.71" width="6.4" height="6.4" fill="#808000"/>
<text font-size="7.3" transform="translate(620.5 508.54) rotate(0.06)" class="lg" textLength="47.7" lengthAdjust="spacingAndGlyphs">Acidobacteria</text>
<rect x="611.5" y="511.52" width="6.4" height="6.4" fill="#7fff00"/>
<text font-size="7.3" transform="translate(620.5 517.35) rotate(0.06)" class="lg" textLength="46.3" lengthAdjust="spacingAndGlyphs">Synergistetes</text>
<rect x="611.5" y="520.33" width="6.4" height="6.4" fill="#1e90ff"/>
<text font-size="7.3" transform="translate(620.5 526.16) rotate(0.06)" class="lg" textLength="57.9" lengthAdjust="spacingAndGlyphs">Verrucomicrobia</text>
<rect x="611.5" y="529.14" width="6.4" height="6.4" fill="#f08080"/>
<text font-size="7.3" transform="translate(620.5 534.97) rotate(0.06)" class="lg" textLength="40.5" lengthAdjust="spacingAndGlyphs">Tenericutes</text>
<rect x="611.5" y="537.95" width="6.4" height="6.4" fill="#98fb98"/>
<text font-size="7.3" transform="translate(620.5 543.78) rotate(0.06)" class="lg" textLength="49.5" lengthAdjust="spacingAndGlyphs">Euryarchaeota</text>
<rect x="611.5" y="546.76" width="6.4" height="6.4" fill="#9370db"/>
<text font-size="7.3" transform="translate(620.5 552.59) rotate(0.06)" class="lg" textLength="44.5" lengthAdjust="spacingAndGlyphs">Fusobacteria</text>
<rect x="611.5" y="555.57" width="6.4" height="6.4" fill="#ffa500"/>
<text font-size="7.3" transform="translate(620.5 561.4) rotate(0.06)" class="lg" textLength="50.6" lengthAdjust="spacingAndGlyphs">Actinobacteria</text>
<rect x="611.5" y="564.38" width="6.4" height="6.4" fill="#20b2aa"/>
<text font-size="7.3" transform="translate(620.5 570.21) rotate(0.06)" class="lg" textLength="47.2" lengthAdjust="spacingAndGlyphs">Bacteroidetes</text>
<rect x="611.5" y="573.19" width="6.4" height="6.4" fill="#0000ff"/>
<text font-size="7.3" transform="translate(620.5 579.02) rotate(0.06)" class="lg" textLength="50.9" lengthAdjust="spacingAndGlyphs">Proteobacteria</text>
<rect x="611.5" y="582" width="6.4" height="6.4" fill="#dc143c"/>
<text font-size="7.3" transform="translate(620.5 587.83) rotate(0.06)" class="lg" textLength="35.8" lengthAdjust="spacingAndGlyphs">Firmicutes</text>
<text class="pl" font-size="30.5" transform="translate(177.72 436) rotate(0.06) scale(0.96 1)">B</text>
</g>
<g>
<line x1="262.25" y1="1016.8" x2="598.25" y2="1016.8" stroke="#9a9a9a" stroke-width="0.78" stroke-dasharray="2.56 1.19"/>
<line x1="262.25" y1="960.9" x2="598.25" y2="960.9" stroke="#9a9a9a" stroke-width="0.78" stroke-dasharray="2.56 1.19"/>
<line x1="262.25" y1="905" x2="598.25" y2="905" stroke="#9a9a9a" stroke-width="0.78" stroke-dasharray="2.56 1.19"/>
<rect x="303.8" y="849.1" width="84.9" height="24.4" fill="#ffff00"/>
<rect x="303.8" y="872.3" width="84.9" height="4.3" fill="#808000"/>
<rect x="303.8" y="875.4" width="84.9" height="10.5" fill="#f08080"/>
<rect x="303.8" y="884.7" width="84.9" height="10.9" fill="#98fb98"/>
<rect x="303.8" y="894.4" width="84.9" height="12.5" fill="#9370db"/>
<rect x="303.8" y="905.7" width="84.9" height="38.8" fill="#ffa500"/>
<rect x="303.8" y="943.3" width="84.9" height="51.2" fill="#20b2aa"/>
<rect x="303.8" y="993.3" width="84.9" height="25.3" fill="#0000ff"/>
<rect x="303.8" y="1017.4" width="84.9" height="55.3" fill="#dc143c"/>
<rect x="471.8" y="849.1" width="84.9" height="32" fill="#ffff00"/>
<rect x="471.8" y="879.9" width="84.9" height="4.5" fill="#808000"/>
<rect x="471.8" y="883.2" width="84.9" height="3.4" fill="#7fff00"/>
<rect x="471.8" y="885.4" width="84.9" height="3.9" fill="#1e90ff"/>
<rect x="471.8" y="888.1" width="84.9" height="15.9" fill="#f08080"/>
<rect x="471.8" y="902.8" width="84.9" height="12" fill="#98fb98"/>
<rect x="471.8" y="913.6" width="84.9" height="10.4" fill="#9370db"/>
<rect x="471.8" y="922.8" width="84.9" height="53.2" fill="#ffa500"/>
<rect x="471.8" y="974.8" width="84.9" height="50.3" fill="#20b2aa"/>
<rect x="471.8" y="1023.9" width="84.9" height="8.5" fill="#0000ff"/>
<rect x="471.8" y="1031.2" width="84.9" height="41.5" fill="#dc143c"/>
<line x1="262.25" y1="848.42" x2="262.25" y2="1073.38" stroke="#000" stroke-width="1.37"/>
<line x1="261.57" y1="1072.7" x2="598.75" y2="1072.7" stroke="#000" stroke-width="1.37"/>
<line x1="258.05" y1="1072.7" x2="262.25" y2="1072.7" stroke="#000" stroke-width="1.37"/>
<text font-size="10.8" text-anchor="end" transform="translate(257.41 1076.64) rotate(0.06)">0</text>
<line x1="258.05" y1="1016.8" x2="262.25" y2="1016.8" stroke="#000" stroke-width="1.37"/>
<text font-size="10.8" text-anchor="end" transform="translate(257.41 1020.74) rotate(0.06)">0.25</text>
<line x1="258.05" y1="960.9" x2="262.25" y2="960.9" stroke="#000" stroke-width="1.37"/>
<text font-size="10.8" text-anchor="end" transform="translate(257.41 964.84) rotate(0.06)">0.5</text>
<line x1="258.05" y1="905" x2="262.25" y2="905" stroke="#000" stroke-width="1.37"/>
<text font-size="10.8" text-anchor="end" transform="translate(257.41 908.94) rotate(0.06)">0.75</text>
<line x1="258.05" y1="849.1" x2="262.25" y2="849.1" stroke="#000" stroke-width="1.37"/>
<text font-size="10.8" text-anchor="end" transform="translate(257.41 853.04) rotate(0.06)">1</text>
<line x1="262.25" y1="1072.7" x2="262.25" y2="1074.53" stroke="#000" stroke-width="1.37"/>
<line x1="430.25" y1="1072.7" x2="430.25" y2="1074.53" stroke="#000" stroke-width="1.37"/>
<line x1="598.25" y1="1072.7" x2="598.25" y2="1074.53" stroke="#000" stroke-width="1.37"/>
<text font-size="9.1" text-anchor="end" transform="translate(348.75 1080.9) rotate(-44.94)" class="xl">N</text>
<text font-size="9.1" text-anchor="end" transform="translate(516.75 1080.9) rotate(-44.94)" class="xl">C</text>
<text font-size="10.8" text-anchor="middle" transform="translate(430.25 1098) rotate(0.06)" textLength="68" lengthAdjust="spacingAndGlyphs">Group Name</text>
<text font-size="10.8" text-anchor="middle" transform="translate(224 960.4) rotate(-89.94)" textLength="105.8" lengthAdjust="spacingAndGlyphs">Relative Abundance</text>
<rect x="606.6" y="884.35" width="6.1" height="6.1" fill="#ffff00"/>
<text font-size="7.4" transform="translate(615.3 890.06) rotate(0.06)" class="lg" textLength="23.5" lengthAdjust="spacingAndGlyphs">Others</text>
<rect x="606.6" y="893.25" width="6.1" height="6.1" fill="#808000"/>
<text font-size="7.4" transform="translate(615.3 898.96) rotate(0.06)" class="lg" textLength="61.6" lengthAdjust="spacingAndGlyphs">Streptococcaceae</text>
<rect x="606.6" y="902.15" width="6.1" height="6.1" fill="#7fff00"/>
<text font-size="7.4" transform="translate(615.3 907.86) rotate(0.06)" class="lg" textLength="58.1" lengthAdjust="spacingAndGlyphs">Lactobacillaceae</text>
<rect x="606.6" y="911.05" width="6.1" height="6.1" fill="#1e90ff"/>
<text font-size="7.4" transform="translate(615.3 916.76) rotate(0.06)" class="lg" textLength="55.5" lengthAdjust="spacingAndGlyphs">Muribaculaceae</text>
<rect x="606.6" y="919.95" width="6.1" height="6.1" fill="#f08080"/>
<text font-size="7.4" transform="translate(615.3 925.66) rotate(0.06)" class="lg" textLength="52.8" lengthAdjust="spacingAndGlyphs">Veillonellaceae</text>
<rect x="606.6" y="928.85" width="6.1" height="6.1" fill="#98fb98"/>
<text font-size="7.4" transform="translate(615.3 934.56) rotate(0.06)" class="lg" textLength="51.2" lengthAdjust="spacingAndGlyphs">Prevotellaceae</text>
<rect x="606.6" y="937.75" width="6.1" height="6.1" fill="#9370db"/>
<text font-size="7.4" transform="translate(615.3 943.46) rotate(0.06)" class="lg" textLength="65.1" lengthAdjust="spacingAndGlyphs">Bifidobacteriaceae</text>
<rect x="606.6" y="946.65" width="6.1" height="6.1" fill="#ffa500"/>
<text font-size="7.4" transform="translate(615.3 952.36) rotate(0.06)" class="lg" textLength="53.5" lengthAdjust="spacingAndGlyphs">Bacteroidaceae</text>
<rect x="606.6" y="955.55" width="6.1" height="6.1" fill="#20b2aa"/>
<text font-size="7.4" transform="translate(615.3 961.26) rotate(0.06)" class="lg" textLength="63.6" lengthAdjust="spacingAndGlyphs">Ruminococcaceae</text>
<rect x="606.6" y="964.45" width="6.1" height="6.1" fill="#0000ff"/>
<text font-size="7.4" transform="translate(615.3 970.16) rotate(0.06)" class="lg" textLength="68.3" lengthAdjust="spacingAndGlyphs">Enterobacteriaceae</text>
<rect x="606.6" y="973.35" width="6.1" height="6.1" fill="#dc143c"/>
<text font-size="7.4" transform="translate(615.3 979.06) rotate(0.06)" class="lg" textLength="59.5" lengthAdjust="spacingAndGlyphs">Lachnospiraceae</text>
<text class="pl" font-size="30.5" transform="translate(177.65 832.7) rotate(0.06) scale(0.98 1)">C</text>
</g>
<g>
<line x1="251.2" y1="1387.28" x2="557.7" y2="1387.28" stroke="#9a9a9a" stroke-width="0.71" stroke-dasharray="2.34 1.08"/>
<line x1="251.2" y1="1336.15" x2="557.7" y2="1336.15" stroke="#9a9a9a" stroke-width="0.71" stroke-dasharray="2.34 1.08"/>
<line x1="251.2" y1="1285.03" x2="557.7" y2="1285.03" stroke="#9a9a9a" stroke-width="0.71" stroke-dasharray="2.34 1.08"/>
<rect x="289.02" y="1233.9" width="77.6" height="82.6" fill="#ffff00"/>
<rect x="289.02" y="1315.3" width="77.6" height="2.8" fill="#808000"/>
<rect x="289.02" y="1316.9" width="77.6" height="9.7" fill="#7fff00"/>
<rect x="289.02" y="1325.4" width="77.6" height="14.1" fill="#1e90ff"/>
<rect x="289.02" y="1338.3" width="77.6" height="2.8" fill="#f08080"/>
<rect x="289.02" y="1339.9" width="77.6" height="12.2" fill="#98fb98"/>
<rect x="289.02" y="1350.9" width="77.6" height="11.3" fill="#9370db"/>
<rect x="289.02" y="1361" width="77.6" height="23.3" fill="#ffa500"/>
<rect x="289.02" y="1383.1" width="77.6" height="15" fill="#20b2aa"/>
<rect x="289.02" y="1396.9" width="77.6" height="36.1" fill="#0000ff"/>
<rect x="289.02" y="1431.8" width="77.6" height="6.6" fill="#dc143c"/>
<rect x="442.28" y="1233.9" width="77.6" height="87.2" fill="#ffff00"/>
<rect x="442.28" y="1319.9" width="77.6" height="6.1" fill="#808000"/>
<rect x="442.28" y="1324.8" width="77.6" height="8.9" fill="#7fff00"/>
<rect x="442.28" y="1332.5" width="77.6" height="6.1" fill="#1e90ff"/>
<rect x="442.28" y="1337.4" width="77.6" height="4.9" fill="#f08080"/>
<rect x="442.28" y="1341.1" width="77.6" height="11" fill="#98fb98"/>
<rect x="442.28" y="1350.9" width="77.6" height="9.5" fill="#9370db"/>
<rect x="442.28" y="1359.2" width="77.6" height="23.9" fill="#ffa500"/>
<rect x="442.28" y="1381.9" width="77.6" height="8.5" fill="#20b2aa"/>
<rect x="442.28" y="1389.2" width="77.6" height="49.2" fill="#0000ff"/>
<rect x="442.28" y="1437.3" width="77.6" height="1.1" fill="#dc143c"/>
<line x1="251.2" y1="1233.27" x2="251.2" y2="1439.03" stroke="#000" stroke-width="1.25"/>
<line x1="250.57" y1="1438.4" x2="558.2" y2="1438.4" stroke="#000" stroke-width="1.25"/>
<line x1="247.36" y1="1438.4" x2="251.2" y2="1438.4" stroke="#000" stroke-width="1.25"/>
<text font-size="9.8" text-anchor="end" transform="translate(246.78 1441.98) rotate(0.06)">0</text>
<line x1="247.36" y1="1387.28" x2="251.2" y2="1387.28" stroke="#000" stroke-width="1.25"/>
<text font-size="9.8" text-anchor="end" transform="translate(246.78 1390.85) rotate(0.06)">0.25</text>
<line x1="247.36" y1="1336.15" x2="251.2" y2="1336.15" stroke="#000" stroke-width="1.25"/>
<text font-size="9.8" text-anchor="end" transform="translate(246.78 1339.73) rotate(0.06)">0.5</text>
<line x1="247.36" y1="1285.03" x2="251.2" y2="1285.03" stroke="#000" stroke-width="1.25"/>
<text font-size="9.8" text-anchor="end" transform="translate(246.78 1288.6) rotate(0.06)">0.75</text>
<line x1="247.36" y1="1233.9" x2="251.2" y2="1233.9" stroke="#000" stroke-width="1.25"/>
<text font-size="9.8" text-anchor="end" transform="translate(246.78 1237.48) rotate(0.06)">1</text>
<line x1="251.2" y1="1438.4" x2="251.2" y2="1440.07" stroke="#000" stroke-width="1.25"/>
<line x1="404.45" y1="1438.4" x2="404.45" y2="1440.07" stroke="#000" stroke-width="1.25"/>
<line x1="557.7" y1="1438.4" x2="557.7" y2="1440.07" stroke="#000" stroke-width="1.25"/>
<text font-size="8.3" text-anchor="end" transform="translate(330.12 1445.9) rotate(-44.94)" class="xl">N</text>
<text font-size="8.3" text-anchor="end" transform="translate(483.38 1445.9) rotate(-44.94)" class="xl">C</text>
<text font-size="9.8" text-anchor="middle" transform="translate(404.45 1461.5) rotate(0.06)" textLength="62.6" lengthAdjust="spacingAndGlyphs">Group Name</text>
<text font-size="9.8" text-anchor="middle" transform="translate(216 1335.65) rotate(-89.94)" textLength="96.7" lengthAdjust="spacingAndGlyphs">Relative Abundance</text>
<rect x="565.4" y="1266" width="5.6" height="5.6" fill="#ffff00"/>
<text font-size="6.8" transform="translate(573 1271.25) rotate(0.06)" class="lg" textLength="21.6" lengthAdjust="spacingAndGlyphs">Others</text>
<rect x="565.4" y="1274.2" width="5.6" height="5.6" fill="#808000"/>
<text font-size="6.8" transform="translate(573 1279.45) rotate(0.06)" class="lg" textLength="43.1" lengthAdjust="spacingAndGlyphs">Megasphaera</text>
<rect x="565.4" y="1282.4" width="5.6" height="5.6" fill="#7fff00"/>
<text font-size="6.8" transform="translate(573 1287.65) rotate(0.06)" class="lg" textLength="98.1" lengthAdjust="spacingAndGlyphs">unidentified_Lachnospiraceae</text>
<rect x="565.4" y="1290.6" width="5.6" height="5.6" fill="#1e90ff"/>
<text font-size="6.8" transform="translate(573 1295.85) rotate(0.06)" class="lg" textLength="105.7" lengthAdjust="spacingAndGlyphs">unidentified_Enterobacteriaceae</text>
<rect x="565.4" y="1298.8" width="5.6" height="5.6" fill="#f08080"/>
<text font-size="6.8" transform="translate(573 1304.05) rotate(0.06)" class="lg" textLength="39.4" lengthAdjust="spacingAndGlyphs">Megamonas</text>
<rect x="565.4" y="1307" width="5.6" height="5.6" fill="#98fb98"/>
<text font-size="6.8" transform="translate(573 1312.25) rotate(0.06)" class="lg" textLength="44" lengthAdjust="spacingAndGlyphs">Agathobacter</text>
<rect x="565.4" y="1315.2" width="5.6" height="5.6" fill="#9370db"/>
<text font-size="6.8" transform="translate(573 1320.45) rotate(0.06)" class="lg" textLength="52.1" lengthAdjust="spacingAndGlyphs">Bifidobacterium</text>
<rect x="565.4" y="1323.4" width="5.6" height="5.6" fill="#ffa500"/>
<text font-size="6.8" transform="translate(573 1328.65) rotate(0.06)" class="lg" textLength="55.5" lengthAdjust="spacingAndGlyphs">Faecalibacterium</text>
<rect x="565.4" y="1331.6" width="5.6" height="5.6" fill="#20b2aa"/>
<text font-size="6.8" transform="translate(573 1336.85) rotate(0.06)" class="lg" textLength="21.5" lengthAdjust="spacingAndGlyphs">Blautia</text>
<rect x="565.4" y="1339.8" width="5.6" height="5.6" fill="#0000ff"/>
<text font-size="6.8" transform="translate(573 1345.05) rotate(0.06)" class="lg" textLength="37.2" lengthAdjust="spacingAndGlyphs">Bacteroides</text>
<rect x="565.4" y="1348" width="5.6" height="5.6" fill="#dc143c"/>
<text font-size="6.8" transform="translate(573 1353.25) rotate(0.06)" class="lg" textLength="31" lengthAdjust="spacingAndGlyphs">Klebsiella</text>
<text class="pl" font-size="30.5" transform="translate(177.52 1204.6) rotate(0.06) scale(1 1)">D</text>
</g>
</svg>
</body>
</html>
